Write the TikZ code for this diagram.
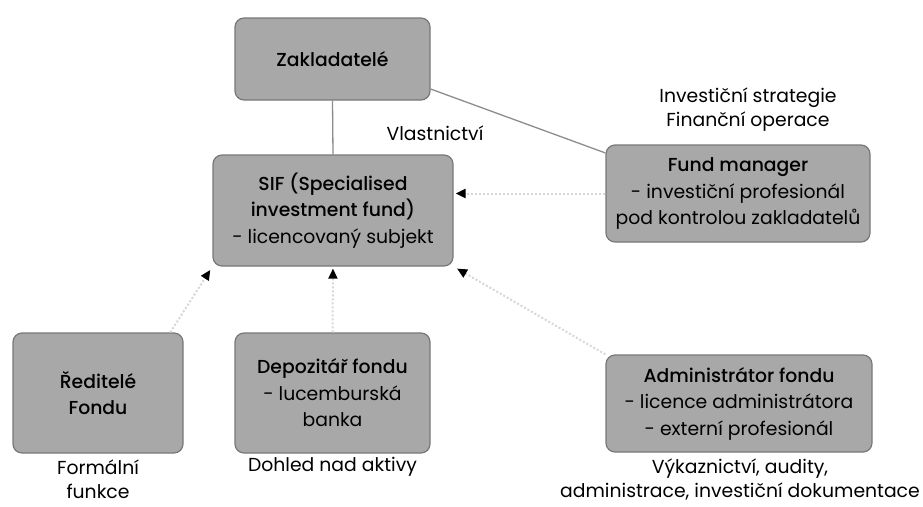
\documentclass[tikz,border=0pt]{standalone}
\usepackage{fontspec}
\setmainfont{Poppins}[BoldFont={Poppins Medium}]
\usetikzlibrary{arrows.meta,calc}
\definecolor{BoxClr}{RGB}{168,168,168}
\definecolor{BoxLineClr}{RGB}{120,120,120}
\definecolor{LinkClr}{RGB}{140,140,140}
\definecolor{DotClr}{RGB}{215,215,215}

\begin{document}
\begin{tikzpicture}[x=1pt,y=-1pt,
  Box/.style={draw=BoxLineClr,line width=1.2pt,fill=BoxClr,rounded corners=9pt,
    align=center,inner sep=0pt,font=\fontsize{18.8}{26.5}\selectfont},
  Note/.style={align=center,font=\fontsize{18.8}{24}\selectfont},
  Link/.style={draw=LinkClr,line width=1.3pt},
  Ref/.style={draw=DotClr,line width=2pt,dotted,
    -{Triangle[length=10pt,width=9pt,black]},shorten >=2pt}]
\useasboundingbox (0,0) rectangle (923,506);

\node[Box,minimum width=195pt,minimum height=82pt] (Zakl) at (332.5,59) {\textbf{Zakladatelé}};
\node[Box,minimum width=240pt,minimum height=111pt] (Sif) at (333,210.5)
  {\textbf{SIF (Specialised}\\\textbf{investment fund)}\\- licencovaný subjekt};
\node[Box,minimum width=264pt,minimum height=97pt] (Manager) at (738,193.5)
  {\textbf{Fund manager}\\- investiční profesionál\\pod kontrolou zakladatelů};
\node[Box,minimum width=170pt,minimum height=120pt] (Reditele) at (98,393)
  {\textbf{Ředitelé}\\\textbf{Fondu}};
\node[Box,minimum width=195pt,minimum height=120pt] (Depozitar) at (332.5,393)
  {\textbf{Depozitář fondu}\\- lucemburská\\banka};
\node[Box,minimum width=266pt,minimum height=97pt] (Admin) at (739,403.5)
  {\textbf{Administrátor fondu}\\- licence administrátora\\- externí profesionál};

\node[Note] (Vlastnictvi) at (435,133) {Vlastnictví};
\node[Note] (Strategie) at (748,110) {Investiční strategie\\Finanční operace};
\node[Note] (Formalni) at (98,479) {Formální\\funkce};
\node[Note] (Dohled) at (332.5,467) {Dohled nad aktivy};
\node[Note] (Vykaznictvi) at (740,479) {Výkaznictví, audity,\\administrace, investiční dokumentace};

\draw[Link] (Zakl.south) -- (Sif.north);
\draw[Link] (Zakl.-17) -- (Manager.163);

\draw[Ref] (Manager.west) -- (Manager.west -| Sif.east);
\draw[Ref,shorten >=4pt] (Reditele.40) -- (Sif.south west);
\draw[Ref] (Depozitar.north) -- (Sif.south);
\draw[Ref,shorten >=4pt] (Admin.north west) -- (Sif.south east);

\end{tikzpicture}
\end{document}
